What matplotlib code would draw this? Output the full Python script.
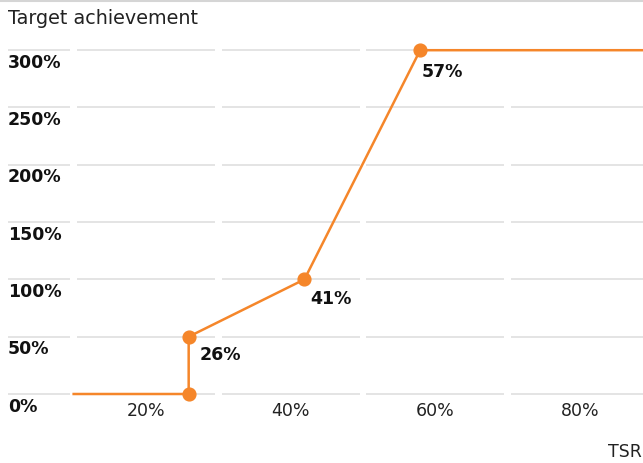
import matplotlib
matplotlib.use("Agg")
import matplotlib.pyplot as plt
from matplotlib.lines import Line2D

plt.rcParams['font.family'] = ['DejaVu Sans']

# data
line_x = [10, 25.9, 25.9, 41.9, 57.9, 100]
line_y = [0, 0, 50, 100, 300, 300]
marker_x = [25.9, 25.9, 41.9, 57.9]
marker_y = [0, 50, 100, 300]
point_labels = ["26%", "41%", "57%"]
label_x = [25.9, 41.9, 57.9]
label_y = [50, 100, 300]
x_ticks = [20, 40, 60, 80]
x_ticklabels = ["20%", "40%", "60%", "80%"]
y_ticks = [0, 50, 100, 150, 200, 250, 300]
y_ticklabels = ["0%", "50%", "100%", "150%", "200%", "250%", "300%"]
band_edges = [10, 30, 50, 70, 90]
title = "Target achievement"
x_title = "TSR"

ORANGE = "#F5862A"
GRID = "#e2e2e2"
W, H = 643, 463

fig = plt.figure(figsize=(W / 100, H / 100), dpi=100)
bottom = (H - 394.0) / H
top = (H - 50.2) / H
ax = fig.add_axes([0, bottom, 1, top - bottom])
ax.set_xlim(-0.184, 88.71)
ax.set_ylim(0, 300)
for s in ax.spines.values():
    s.set_visible(False)
ax.set_yticks([])

# gridlines (label column + bands)
gap = 0.45
for v in y_ticks:
    ax.hlines(v, 0.92, band_edges[0] - gap, color=GRID, lw=1.3, zorder=1, clip_on=False)
    for a, b in zip(band_edges[:-1], band_edges[1:]):
        ax.hlines(v, a + gap, b - gap, color=GRID, lw=1.3, zorder=1, clip_on=False)

# y labels
for v, lab in zip(y_ticks, y_ticklabels):
    ax.text(0.92, v - 11.0, lab, ha='left', va='center', fontsize=12.5,
            fontweight='bold', color='#111111')

# x ticks
ax.set_xticks(x_ticks)
ax.set_xticklabels(x_ticklabels, fontsize=12.5, color='#222222')
ax.tick_params(axis='x', length=0, pad=5.5)

# line
ax.plot(line_x, line_y, color=ORANGE, lw=1.8, zorder=3, clip_on=False,
        solid_joinstyle='miter')
ax.plot(marker_x, marker_y, 'o', color=ORANGE, ms=9.2, zorder=4, clip_on=False)

offsets = [(8, -13), (4, -14), (1, -16)]
for x, y, lab, (dx, dy) in zip(label_x, label_y, point_labels, offsets):
    ax.annotate(lab, (x, y), xytext=(dx, dy), textcoords='offset points',
                ha='left', va='center', fontsize=12.5, fontweight='bold',
                color='#111111')

fig.text(8 / W, 1 - 19 / H, title, ha='left', va='center', fontsize=13.8,
         color='#222222')
fig.text(608 / W, 1 - 452 / H, x_title, ha='left', va='center', fontsize=12.5,
         color='#222222')
fig.add_artist(Line2D([0, 1], [1 - 0.8 / H, 1 - 0.8 / H], transform=fig.transFigure,
                      color='#d5d5d5', lw=1.5))

fig.savefig("out.png", dpi=100)
